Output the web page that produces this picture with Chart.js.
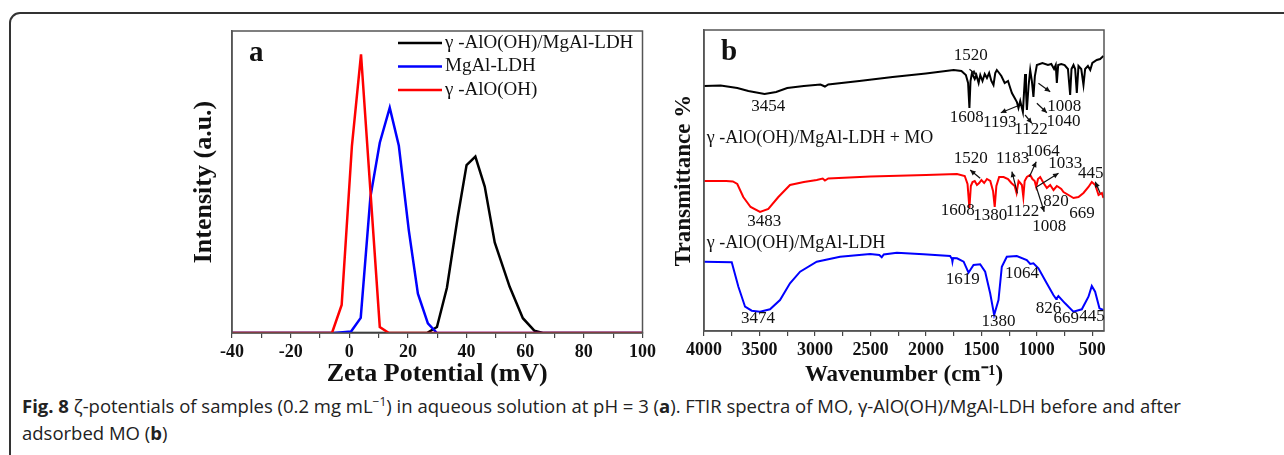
<!DOCTYPE html>
<html>
<head>
<meta charset="utf-8">
<script src="https://cdn.jsdelivr.net/npm/chart.js@4.4.1/dist/chart.umd.min.js"></script>
<style>
html, body { margin: 0; padding: 0; background: #fff; }
body { width: 1284px; height: 455px; position: relative; overflow: hidden; }
#frame { position: absolute; left: 9px; top: 12px; width: 1300px; height: 480px; border: 2px solid #333; border-radius: 11px; box-sizing: border-box; }
.box { position: absolute; }
#boxA { left: 180px; top: 20px; width: 480px; height: 370px; }
#boxB { left: 660px; top: 20px; width: 460px; height: 370px; }
#caption { position: absolute; left: 22px; top: 392px; font-family: "Open Sans", sans-serif; font-size: 18.5px; line-height: 27px; color: #222; white-space: nowrap; }
#caption sup { font-size: 0.65em; line-height: 0; vertical-align: 0.55em; }
</style>
</head>
<body>
<div id="frame"></div>
<div class="box" id="boxA"><canvas id="chartA" width="480" height="370"></canvas></div>
<div class="box" id="boxB"><canvas id="chartB" width="460" height="370"></canvas></div>
<div id="caption"><b>Fig. 8</b> ζ-potentials of samples (0.2 mg mL<sup>−1</sup>) in aqueous solution at pH = 3 (<b>a</b>). FTIR spectra of MO, γ-AlO(OH)/MgAl-LDH before and after<br>adsorbed MO (<b>b</b>)</div>

<script>
// ---- panel a: zeta potential distributions [mV, intensity] ----
const zetaComposite = [[-40, 0], [26.5, 0], [29.9, 2], [33.3, 15], [37, 38.5], [40, 55.6], [43, 58.4], [46.2, 48.5], [49.6, 30], [54.7, 15.3], [59.2, 4.9], [63.1, 0.8], [66, 0], [100, 0]];
const zetaLDH = [[-40, 0], [-5, 0], [0.6, 0.5], [3.9, 5], [7.2, 45], [10.4, 63], [13.8, 74.6], [16.9, 62], [20.3, 34], [23.4, 13], [26.8, 3.2], [29.9, 0], [100, 0]];
const zetaAlOOH = [[-40, 0], [-5.9, 0], [-2.6, 9.3], [0.9, 62], [4, 92.3], [10.4, 2], [13.5, 0], [100, 0]];
const legendA = ['γ -AlO(OH)/MgAl-LDH', 'MgAl-LDH', 'γ -AlO(OH)'];
const zetaLabels = [-40, -20, 0, 20, 40, 60, 80, 100];
const zetaMinor = [-30, -10, 10, 30, 50, 70, 90];

// ---- panel b: FTIR spectra [wavenumber, offset transmittance] ----
const irMO = [[4000, 245], [3850, 245.5], [3700, 243], [3600, 240], [3454, 237], [3350, 239], [3250, 243], [3100, 245], [2950, 246.5], [2910, 244.5], [2880, 246.5], [2600, 250], [2300, 254], [2000, 257.5], [1750, 261], [1680, 260], [1640, 256], [1620, 248], [1608, 223], [1598, 250], [1585, 258], [1560, 252], [1545, 256], [1525, 248], [1510, 256], [1490, 250], [1470, 257], [1450, 253], [1430, 258], [1410, 250], [1391, 246], [1375, 258], [1361, 261], [1340, 258], [1320, 255], [1290, 248], [1260, 250], [1240, 243], [1225, 238], [1200, 233], [1180, 229], [1166, 223], [1150, 230], [1126, 219], [1115, 240], [1106, 257], [1098, 240], [1090, 221], [1075, 245], [1060, 261], [1045, 250], [1031, 234], [1018, 255], [1000, 266], [950, 268], [900, 266], [870, 267], [845, 262], [830, 266], [820, 248], [808, 266], [780, 267], [750, 266], [720, 262], [700, 236], [688, 262], [670, 266], [655, 262], [640, 238], [625, 265], [600, 262], [580, 246], [565, 262], [540, 265], [519, 261], [500, 268], [460, 271], [430, 272], [400, 275]];
const irLDHMO = [[4000, 150], [3800, 150], [3740, 149.5], [3700, 147], [3646, 134], [3580, 124], [3495, 119], [3420, 122], [3330, 134], [3225, 146], [3100, 149], [2984, 151], [2930, 152.5], [2910, 150.5], [2880, 152.5], [2500, 154.5], [2000, 156], [1720, 157], [1650, 155], [1625, 147], [1608, 123], [1595, 145], [1580, 149], [1560, 150], [1540, 146], [1520, 148], [1500, 151], [1475, 148], [1450, 152], [1420, 150], [1395, 140], [1380, 124], [1365, 145], [1340, 154], [1300, 154], [1260, 152], [1230, 148], [1200, 145], [1183, 138], [1165, 150], [1150, 148], [1135, 146], [1122, 134], [1110, 150], [1090, 154], [1060, 156], [1040, 152], [1020, 150], [1006, 144], [990, 152], [970, 154], [940, 148], [910, 143], [880, 146], [850, 141], [820, 145], [805, 144], [780, 142], [760, 139], [715, 136], [670, 133], [625, 134], [580, 138], [535, 144], [505, 149], [474, 146], [444, 136], [414, 138], [400, 133]];
const irLDH = [[4000, 69.3], [3750, 68.7], [3690, 44.3], [3630, 24.3], [3570, 20.3], [3495, 19.3], [3405, 21.7], [3315, 31], [3225, 47.7], [3134, 59.3], [2984, 69.3], [2774, 74.3], [2503, 77], [2420, 76], [2398, 73.7], [2380, 76.5], [2262, 78.3], [2022, 76.7], [1782, 75], [1765, 72], [1761, 69.3], [1755, 73], [1720, 72.7], [1660, 69.3], [1616, 58.3], [1571, 66], [1511, 66.7], [1466, 59.3], [1421, 37.7], [1385, 16], [1346, 31], [1316, 64.3], [1271, 74.3], [1181, 75], [1091, 71], [1060, 67], [1031, 67.7], [986, 62.7], [911, 47.7], [851, 36], [826, 32], [821, 32.7], [806, 35], [746, 27.7], [671, 19.3], [595, 21.7], [535, 34.3], [505, 45], [475, 39.3], [436, 22.7], [400, 21]];
const waveLabels = [4000, 3500, 3000, 2500, 2000, 1500, 1000, 500];
const waveMinor = [3750, 3250, 2750, 2250, 1750, 1250, 750];

// peak labels [text, wavenumber, level] and arrows [w1, v1, w2, v2] (head at w2, v2)
const peakTexts = [
  ['3454', 3420, 224.7], ['1520', 1595, 275.3], ['1608', 1631, 213.5], ['1193', 1335, 208], ['1122', 1053, 201], ['1040', 760, 209.3], ['1008', 754, 224.3],
  ['1520', 1595, 172.2], ['1183', 1218, 172.2], ['1064', 948, 179.3], ['1033', 745, 167.7], ['445', 515, 157.7],
  ['1608', 1714, 120.2], ['1380', 1421, 115.2], ['1122', 1128, 119.3], ['820', 828, 129.3], ['669', 594, 117.7], ['1008', 889, 104.3], ['3483', 3457, 109.3],
  ['3474', 3513, 12.7], ['1619', 1669, 51], ['1380', 1346, 9.3], ['1064', 1135, 57.7], ['826', 895, 22.7], ['669', 736, 12.7], ['445', 504, 14.3]
];
const peakArrows = [
  [1608, 261.7, 1541, 256], [1175, 225, 1325, 218.3], [1106, 216, 1045, 207.7], [1000, 227.7, 910, 218.3], [986, 247.7, 880, 239.3],
  [1511, 152.7, 1601, 161], [1175, 137.7, 1225, 159.3], [1067, 154.3, 1006, 169.3], [1000, 144.3, 805, 157.7], [429, 137.7, 474, 149.3], [1006, 144.3, 934, 119.3]
];
const seriesNames = [['γ -AlO(OH)/MgAl-LDH + MO', 3975, 192.7], ['γ -AlO(OH)/MgAl-LDH', 3975, 87.7]];

const serif = "'Liberation Serif', 'Times New Roman', serif";
const toXY = arr => arr.map(p => ({ x: p[0], y: p[1] }));

const boxFrame = {
  id: 'boxFrame',
  afterDatasetsDraw(chart) {
    const { ctx, chartArea: a } = chart;
    ctx.save();
    ctx.strokeStyle = '#555';
    ctx.lineWidth = 1.5;
    ctx.strokeRect(a.left, a.top, a.right - a.left, a.bottom - a.top);
    ctx.restore();
  }
};

function panelLetter(letter) {
  return {
    id: 'letter' + letter,
    afterDraw(chart) {
      const { ctx, chartArea: a } = chart;
      ctx.save();
      ctx.font = 'bold 29px ' + serif;
      ctx.fillStyle = '#111';
      ctx.textBaseline = 'alphabetic';
      ctx.fillText(letter, a.left + 17, a.top + 30);
      ctx.restore();
    }
  };
}

// legend drawn as line + label rows, in dataset order
const legendPlugin = {
  id: 'legendA',
  afterDraw(chart) {
    const { ctx, chartArea: a } = chart;
    ctx.save();
    ctx.font = '19px ' + serif;
    ctx.textBaseline = 'middle';
    chart.data.datasets.forEach((ds, row) => {
      const y = a.top + 12 + row * 23.5;
      ctx.strokeStyle = ds.borderColor;
      ctx.lineWidth = 2.5;
      ctx.beginPath();
      ctx.moveTo(a.left + 166, y);
      ctx.lineTo(a.left + 210, y);
      ctx.stroke();
      ctx.fillStyle = '#111';
      ctx.fillText(ds.label, a.left + 213, y);
    });
    ctx.restore();
  }
};

const peakPlugin = {
  id: 'peaks',
  afterDatasetsDraw(chart) {
    const { ctx, scales: { x, y } } = chart;
    ctx.save();
    ctx.fillStyle = '#111';
    ctx.font = '17px ' + serif;
    ctx.textAlign = 'center';
    ctx.textBaseline = 'middle';
    peakTexts.forEach(t => ctx.fillText(t[0], x.getPixelForValue(t[1]), y.getPixelForValue(t[2])));
    ctx.font = '18px ' + serif;
    ctx.textAlign = 'left';
    seriesNames.forEach(t => ctx.fillText(t[0], x.getPixelForValue(t[1]), y.getPixelForValue(t[2])));
    ctx.strokeStyle = '#111';
    ctx.lineWidth = 1.2;
    peakArrows.forEach(r => {
      const x1 = x.getPixelForValue(r[0]), y1 = y.getPixelForValue(r[1]);
      const x2 = x.getPixelForValue(r[2]), y2 = y.getPixelForValue(r[3]);
      ctx.beginPath();
      ctx.moveTo(x1, y1);
      ctx.lineTo(x2, y2);
      ctx.stroke();
      const ang = Math.atan2(y2 - y1, x2 - x1);
      ctx.beginPath();
      ctx.moveTo(x2, y2);
      ctx.lineTo(x2 - 6 * Math.cos(ang - 0.45), y2 - 6 * Math.sin(ang - 0.45));
      ctx.lineTo(x2 - 6 * Math.cos(ang + 0.45), y2 - 6 * Math.sin(ang + 0.45));
      ctx.closePath();
      ctx.fill();
    });
    ctx.restore();
  }
};

new Chart(document.getElementById('chartA'), {
  type: 'line',
  data: {
    datasets: [
      { label: legendA[0], data: toXY(zetaComposite), borderColor: '#000', order: 3 },
      { label: legendA[1], data: toXY(zetaLDH), borderColor: '#0000ff', order: 2 },
      { label: legendA[2], data: toXY(zetaAlOOH), borderColor: '#ff0000', order: 1 }
    ]
  },
  options: {
    responsive: false,
    animation: false,
    layout: { padding: { top: 11, right: 14 } },
    elements: { point: { radius: 0 }, line: { borderWidth: 2.5, tension: 0 } },
    scales: {
      x: {
        type: 'linear',
        min: -40,
        max: 100,
        afterFit: s => { s.height = 57; },
        afterBuildTicks: s => { s.ticks = zetaLabels.concat(zetaMinor).sort((p, q) => p - q).map(v => ({ value: v })); },
        ticks: {
          autoSkip: false,
          maxRotation: 0,
          padding: 4,
          color: '#111',
          font: { family: serif, size: 18, weight: 'bold' },
          callback: v => zetaLabels.includes(v) ? String(v) : ''
        },
        grid: { drawOnChartArea: false, drawTicks: true, tickLength: 5, color: '#444', lineWidth: 1.2 },
        border: { color: '#555', width: 1.5 },
        title: { display: true, text: 'Zeta Potential (mV)', color: '#111', font: { family: serif, size: 26, weight: 'bold' }, padding: { top: 0, bottom: 0 } }
      },
      y: {
        min: 0,
        max: 100,
        afterFit: s => { s.width = 52; },
        ticks: { display: false },
        grid: { display: false },
        border: { color: '#555', width: 1.5 },
        title: { display: true, text: 'Intensity (a.u.)', color: '#111', font: { family: serif, size: 26, weight: 'bold' }, padding: { top: 9, bottom: 0 } }
      }
    },
    plugins: { legend: { display: false }, tooltip: { enabled: false } }
  },
  plugins: [boxFrame, legendPlugin, panelLetter('a')]
});

new Chart(document.getElementById('chartB'), {
  type: 'line',
  data: {
    datasets: [
      { label: 'MO', data: toXY(irMO), borderColor: '#000' },
      { label: 'γ-AlO(OH)/MgAl-LDH + MO', data: toXY(irLDHMO), borderColor: '#ff0000' },
      { label: 'γ-AlO(OH)/MgAl-LDH', data: toXY(irLDH), borderColor: '#0000ff' }
    ]
  },
  options: {
    responsive: false,
    animation: false,
    layout: { padding: { top: 10, right: 16 } },
    elements: { point: { radius: 0 }, line: { borderWidth: 2, tension: 0 } },
    scales: {
      x: {
        type: 'linear',
        reverse: true,
        min: 395,
        max: 4000,
        afterFit: s => { s.height = 59; },
        afterBuildTicks: s => { s.ticks = waveLabels.concat(waveMinor).sort((p, q) => q - p).map(v => ({ value: v })); },
        ticks: {
          autoSkip: false,
          maxRotation: 0,
          padding: 4,
          color: '#111',
          font: { family: serif, size: 18, weight: 'bold' },
          callback: v => waveLabels.includes(v) ? String(v) : ''
        },
        grid: { drawOnChartArea: false, drawTicks: true, tickLength: 5, color: '#444', lineWidth: 1.2 },
        border: { color: '#555', width: 1.5 },
        title: { display: true, text: 'Wavenumber (cm⁻¹)', color: '#111', font: { family: serif, size: 23, weight: 'bold' }, padding: { top: 0, bottom: 1 } }
      },
      y: {
        min: 0,
        max: 301,
        afterFit: s => { s.width = 44; },
        ticks: { display: false },
        grid: { display: false },
        border: { color: '#555', width: 1.5 },
        title: { display: true, text: 'Transmittance %', color: '#111', font: { family: serif, size: 23, weight: 'bold' }, padding: { top: 10, bottom: 0 } }
      }
    },
    plugins: { legend: { display: false }, tooltip: { enabled: false } }
  },
  plugins: [boxFrame, peakPlugin, panelLetter('b')]
});
</script>
</body>
</html>
